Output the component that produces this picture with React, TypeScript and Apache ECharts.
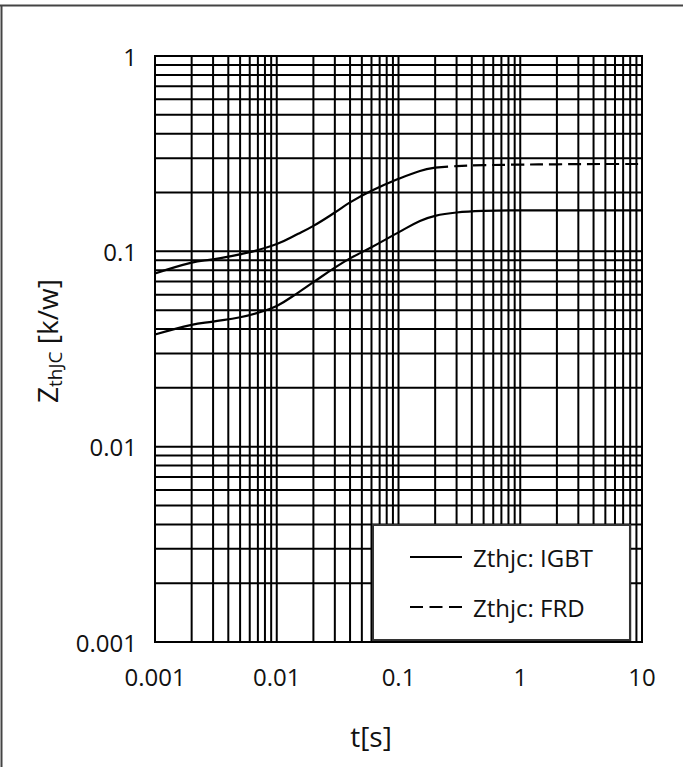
import React, { useEffect, useRef } from "react";
import * as echarts from "echarts";

// Transient thermal impedance curves, Zth(j-c) versus pulse time
const tIGBT = [0.001, 0.002, 0.003, 0.005, 0.007, 0.01, 0.015, 0.02, 0.03, 0.04, 0.06, 0.1, 0.15, 0.2, 0.3, 0.5, 1, 2, 5, 10];
const zIGBT = [0.0375, 0.042, 0.0437, 0.046, 0.0485, 0.0525, 0.0615, 0.0695, 0.0825, 0.092, 0.105, 0.125, 0.143, 0.152, 0.158, 0.161, 0.162, 0.162, 0.162, 0.162];

const tFRDSolid = [0.001, 0.002, 0.003, 0.004, 0.006, 0.01, 0.015, 0.02, 0.03, 0.04, 0.06, 0.1, 0.15, 0.2];
const zFRDSolid = [0.077, 0.0875, 0.091, 0.094, 0.099, 0.109, 0.123, 0.135, 0.158, 0.178, 0.204, 0.235, 0.258, 0.268];

const tFRDDash = [0.2, 0.3, 0.5, 1, 2, 5, 10];
const zFRDDash = [0.268, 0.273, 0.276, 0.278, 0.279, 0.28, 0.28];

// Log grid: every mantissa 1..9 in each decade
const mantissas = [1, 2, 3, 4, 5, 6, 7, 8, 9];
const xDecades = [0.001, 0.01, 0.1, 1];
const yDecades = [0.001, 0.01, 0.1];
const xMin = 0.001;
const xMax = 10;
const yMin = 0.001;
const yMax = 1;

const FONT = '"Open Sans", "Noto Sans", sans-serif';
const LEGEND_IGBT = "Zthjc: IGBT";
const LEGEND_FRD = "Zthjc: FRD";

const pairs = (xs: number[], ys: number[]) => xs.map((x, i) => [x, ys[i]]);
const fmt = (v: number) => String(Number(Number(v).toPrecision(1)));

export default function App() {
  const ref = useRef<HTMLDivElement>(null);

  useEffect(() => {
    if (!ref.current) return;
    const chart = echarts.init(ref.current, null, { renderer: "svg" });

    const xGrid: number[] = [];
    xDecades.forEach((d) => mantissas.forEach((m) => xGrid.push(+(d * m).toPrecision(3))));
    xGrid.push(xMax);
    const yGrid: number[] = [];
    yDecades.forEach((d) => mantissas.forEach((m) => yGrid.push(+(d * m).toPrecision(3))));
    yGrid.push(yMax);

    // rows: [x, y, kind] — kind 0 = vertical grid line, 1 = horizontal grid line
    const gridRows = [
      ...xGrid.map((v) => [v, yMin, 0]),
      ...yGrid.map((v) => [xMin, v, 1]),
    ];

    // width of text pieces for the composed axis title
    const ctx = document.createElement("canvas").getContext("2d")!;
    const measure = (txt: string, size: number) => {
      ctx.font = `${size}px ${FONT}`;
      return ctx.measureText(txt).width;
    };
    const titleSize = 28;
    const subSize = 19;
    const wZ = measure("Z", titleSize);
    const wSub = measure("thJC", subSize);

    const gridStroke = "#000000";
    const gridWidth = 2;

    const option: any = {
      animation: false,
      backgroundColor: "#ffffff",
      textStyle: { fontFamily: FONT },
      grid: { left: 155, top: 56, width: 487, height: 586, containLabel: false },
      legend: {
        data: [
          { name: LEGEND_IGBT, icon: "path://M0,0h52v2h-52z" },
          { name: LEGEND_FRD, icon: "path://M0,0h13v2h-13z M19.5,0h13v2h-13z M39,0h13v2h-13z" },
        ],
        orient: "vertical",
        left: 373,
        top: 525,
        padding: [20, 37, 21, 37],
        itemGap: 26,
        itemWidth: 52,
        itemHeight: 2,
        symbolKeepAspect: false,
        backgroundColor: "#ffffff",
        borderColor: "#333333",
        borderWidth: 2,
        borderRadius: 0,
        selectedMode: false,
        itemStyle: { color: "#000000", borderWidth: 0 },
        textStyle: { fontFamily: FONT, fontSize: 24, color: "#111111", padding: [0, 0, 0, 6] },
      },
      xAxis: {
        type: "log",
        logBase: 10,
        min: xMin,
        max: xMax,
        axisLine: { show: false },
        axisTick: { show: false },
        splitLine: { show: false },
        axisLabel: { fontFamily: FONT, fontSize: 24, color: "#111111", margin: 22, formatter: (v: number) => fmt(v) },
      },
      yAxis: {
        type: "log",
        logBase: 10,
        min: yMin,
        max: yMax,
        axisLine: { show: false },
        axisTick: { show: false },
        splitLine: { show: false },
        axisLabel: { fontFamily: FONT, fontSize: 24, color: "#111111", margin: 18, formatter: (v: number) => fmt(v) },
      },
      series: [
        {
          name: "grid",
          type: "custom",
          z: 1,
          silent: true,
          clip: false,
          encode: { x: 0, y: 1 },
          data: gridRows,
          renderItem: (params: any, api: any) => {
            const cs = params.coordSys;
            const kind = api.value(2);
            const ext = gridWidth / 2;
            if (kind === 0) {
              const p = api.coord([api.value(0), yMin]);
              return {
                type: "line",
                shape: { x1: p[0], y1: cs.y - ext, x2: p[0], y2: cs.y + cs.height + ext },
                style: { stroke: gridStroke, lineWidth: gridWidth },
              };
            }
            const p = api.coord([xMin, api.value(1)]);
            return {
              type: "line",
              shape: { x1: cs.x - ext, y1: p[1], x2: cs.x + cs.width + ext, y2: p[1] },
              style: { stroke: gridStroke, lineWidth: gridWidth },
            };
          },
        },
        {
          name: LEGEND_IGBT,
          type: "line",
          z: 3,
          data: pairs(tIGBT, zIGBT),
          smooth: 0.4,
          symbol: "none",
          lineStyle: { color: "#000000", width: 2.2, type: "solid" },
          itemStyle: { color: "#000000" },
        },
        {
          name: LEGEND_FRD,
          type: "line",
          z: 3,
          data: pairs(tFRDDash, zFRDDash),
          smooth: 0.4,
          symbol: "none",
          lineStyle: { color: "#000000", width: 2.2, type: [13, 6] },
          itemStyle: { color: "#000000" },
        },
        {
          name: "Zthjc: FRD (t ≤ 0.2 s)",
          type: "line",
          z: 3,
          data: pairs(tFRDSolid, zFRDSolid),
          smooth: 0.4,
          symbol: "none",
          lineStyle: { color: "#000000", width: 2.2, type: "solid" },
          itemStyle: { color: "#000000" },
        },
      ],
      graphic: [
        // frame edges of the figure
        { type: "line", shape: { x1: 0, y1: 5.5, x2: 683, y2: 5.5 }, style: { stroke: "#444444", lineWidth: 2 }, silent: true },
        { type: "line", shape: { x1: 1.5, y1: 5, x2: 1.5, y2: 767 }, style: { stroke: "#444444", lineWidth: 2 }, silent: true },
        // x axis title
        {
          type: "text",
          x: 371,
          y: 736,
          style: { text: "t[s]", font: `${titleSize}px ${FONT}`, fill: "#111111", align: "center", verticalAlign: "middle" },
        },
        // y axis title with subscript, reading bottom to top
        {
          type: "group",
          x: 47,
          y: 403,
          rotation: Math.PI / 2,
          children: [
            { type: "text", x: 0, y: 0, style: { text: "Z", font: `${titleSize}px ${FONT}`, fill: "#111111", verticalAlign: "middle" } },
            { type: "text", x: wZ, y: 8, style: { text: "thJC", font: `${subSize}px ${FONT}`, fill: "#111111", verticalAlign: "middle" } },
            { type: "text", x: wZ + wSub, y: 0, style: { text: " [k/w]", font: `${titleSize}px ${FONT}`, fill: "#111111", verticalAlign: "middle" } },
          ],
        },
      ],
    };

    chart.setOption(option);
    return () => chart.dispose();
  }, []);

  return (
    <div
      ref={ref}
      style={{ position: "absolute", left: 0, top: 0, width: 683, height: 767, background: "#ffffff" }}
    />
  );
}
